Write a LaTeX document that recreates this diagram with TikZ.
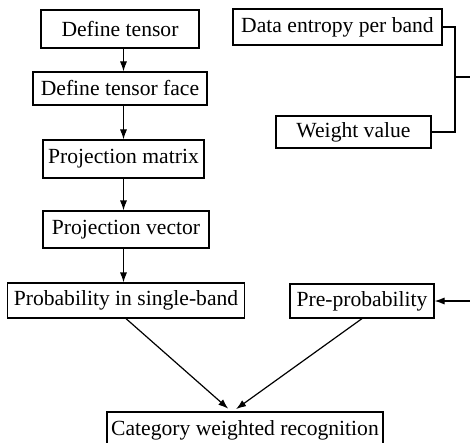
\documentclass[tikz,border=0pt]{standalone}
\usepackage{fontspec}
\setmainfont{Liberation Serif}
\usetikzlibrary{arrows.meta}

\begin{document}
\begin{tikzpicture}[x=0.5pt, y=-0.5pt, line width=0.6pt,
  font=\fontsize{10.8}{12}\selectfont,
  box/.style={draw, inner sep=0pt, minimum height=17.5pt},
  arr/.style={-{Latex[length=5pt,width=3.6pt]}}]
  \useasboundingbox (0,0) rectangle (470,443);
  \clip (0,0) rectangle (470,443);
  % left column
  \node[box, minimum width=79pt, minimum height=19pt] (deften) at (120,29) {Define tensor};
  \node[box, minimum width=87pt, minimum height=16.5pt] (defface) at (120,88.5) {Define tensor face};
  \node[box, minimum width=80.5pt, minimum height=19pt] (projmat) at (123.5,159) {Projection matrix};
  \node[box, minimum width=83pt, minimum height=18.5pt] (projvec) at (126,229.5) {Projection vector};
  \node[box, minimum width=118.5pt] (prob) at (126,300.5) {Probability in single-band};
  % right column
  \node[box, minimum width=104.5pt, minimum height=18pt] (entropy) at (337.5,27) {Data entropy per band};
  \node[box, minimum width=77.5pt, minimum height=16pt] (weight) at (353.5,132) {Weight value};
  \node[box, minimum width=72pt, minimum height=17pt] (pre) at (362,301) {Pre-probability};
  \node[box, minimum width=138pt, minimum height=18pt] (cat) at (245,430) {Category weighted recognition};
  \coordinate (join) at (455,77);
  \coordinate (outR) at (470,77);
  \coordinate (inR) at (470,301);
  \coordinate (meet) at (232,412);

  \draw[arr] (deften.south -| projmat) -- (defface.north -| projmat);
  \draw[arr] (defface.south -| projmat) -- (projmat.north);
  \draw[arr] (projmat.south) -- (projmat.south |- projvec.north);
  \draw[arr] (projvec.south -| projmat) -- (prob.north -| projmat);
  \draw (entropy.east) -| (join) |- (weight.east);
  \draw (join) -- (outR);
  \draw[arr] (inR) -- (pre.east);
  \draw[arr, shorten >=2.5pt] (prob.south) -- (meet);
  \draw[arr, shorten >=2.5pt] (pre.south) -- (meet);
\end{tikzpicture}
\end{document}
